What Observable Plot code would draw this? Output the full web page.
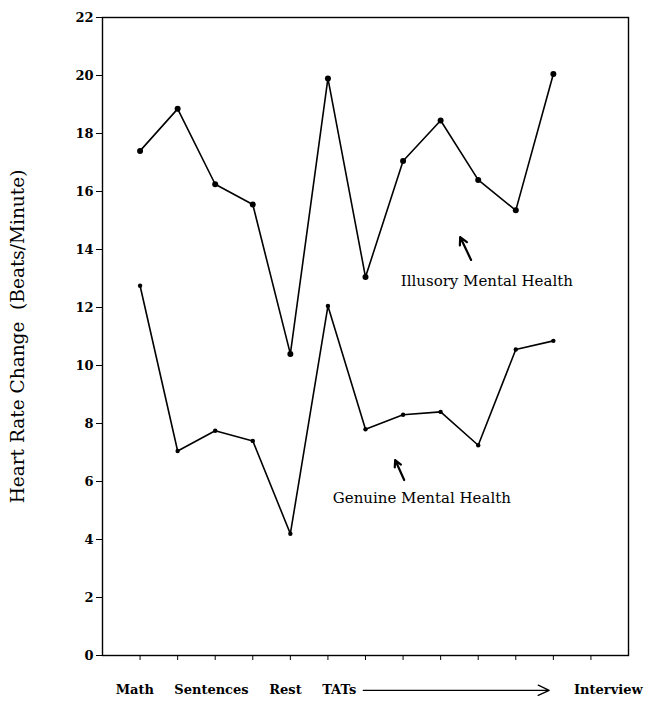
<!DOCTYPE html>
<html>
<head>
<meta charset="utf-8">
<script src="https://cdn.jsdelivr.net/npm/d3@7"></script>
<script src="https://cdn.jsdelivr.net/npm/@observablehq/plot@0.6"></script>
<style>
  html, body { margin: 0; padding: 0; background: #fff; }
  #chart svg { display: block; }
</style>
</head>
<body>
<div id="chart"></div>
<script>
// Data (trial index 1..12 along x)
const trials = [1, 2, 3, 4, 5, 6, 7, 8, 9, 10, 11, 12];
const illusory = [17.4, 18.85, 16.25, 15.55, 10.4, 19.9, 13.05, 17.05, 18.45, 16.4, 15.35, 20.05];
const genuine  = [12.75, 7.05, 7.75, 7.4, 4.2, 12.05, 7.8, 8.3, 8.4, 7.25, 10.55, 10.85];

const yTicks = [0, 2, 4, 6, 8, 10, 12, 14, 16, 18, 20, 22];
const xTicks = [1, 2, 3, 4, 5, 6, 7, 8, 9, 10, 11, 12, 13];

// Category labels under the axis (label, x position in trial units)
const xLabels = ["Math", "Sentences", "Rest", "TATs"];
const xLabelPos = [0.86, 2.9, 4.87, 6.3];
const endLabel = "Interview";
const endLabelPos = 12.55;
const arrowSpan = [6.94, 11.89];
const labelRowY = -1.2;

const yTitle = "Heart Rate Change  (Beats/Minute)";

// Series annotations
const annoText = ["Illusory Mental Health", "Genuine Mental Health"];
const annoX = [10.23, 8.5];
const annoY = [12.92, 5.43];
const annoArrowFrom = [[9.81, 13.64], [8.03, 6.05]];
const annoArrowTo = [[9.52, 14.43], [7.79, 6.74]];

const serif = "DejaVu Serif";

const illData = trials.map((t, i) => ({x: t, y: illusory[i]}));
const genData = trials.map((t, i) => ({x: t, y: genuine[i]}));
const labelData = xLabels.map((l, i) => ({label: l, x: xLabelPos[i]}));
const annoData = annoText.map((t, i) => ({text: t, x: annoX[i], y: annoY[i],
  x1: annoArrowFrom[i][0], y1: annoArrowFrom[i][1], x2: annoArrowTo[i][0], y2: annoArrowTo[i][1]}));

const chart = Plot.plot({
  width: 646,
  height: 701,
  marginLeft: 102,
  marginRight: 18,
  marginTop: 17,
  marginBottom: 46,
  style: {fontFamily: serif, color: "#000", background: "#fff"},
  x: {domain: [0, 14]},
  y: {domain: [0, 22]},
  marks: [
    Plot.frame({stroke: "#000", strokeWidth: 1.4}),
    Plot.axisY({ticks: yTicks, tickSize: 6, tickPadding: 3, fontSize: 13, fontWeight: "bold", label: null, stroke: "#000"}),
    Plot.axisX({ticks: xTicks, tickSize: 5, tickFormat: () => "", label: null, stroke: "#000"}),
    Plot.text([yTitle], {frameAnchor: "left", dx: -84, rotate: -90, textAnchor: "middle", fontSize: 18.5, fill: "#000"}),
    Plot.line(illData, {x: "x", y: "y", stroke: "#000", strokeWidth: 1.6}),
    Plot.dot(illData, {x: "x", y: "y", r: 3, fill: "#000"}),
    Plot.line(genData, {x: "x", y: "y", stroke: "#000", strokeWidth: 1.6}),
    Plot.dot(genData, {x: "x", y: "y", r: 2.2, fill: "#000"}),
    Plot.text(annoData, {x: "x", y: "y", text: "text", fontSize: 15, fill: "#000"}),
    Plot.arrow(annoData, {x1: "x1", y1: "y1", x2: "x2", y2: "y2", stroke: "#000", strokeWidth: 2.2, headLength: 10, headAngle: 55}),
    Plot.text(labelData, {x: "x", y: () => labelRowY, text: "label", fontSize: 13, fontWeight: "bold", fill: "#000"}),
    Plot.text([endLabel], {x: () => endLabelPos, y: () => labelRowY, text: d => d, textAnchor: "start", fontSize: 13, fontWeight: "bold", fill: "#000"}),
    Plot.arrow([0], {x1: () => arrowSpan[0], x2: () => arrowSpan[1], y1: () => labelRowY, y2: () => labelRowY, stroke: "#000", strokeWidth: 1.3, headLength: 14, headAngle: 50})
  ]
});
document.getElementById("chart").appendChild(chart);
</script>
</body>
</html>
